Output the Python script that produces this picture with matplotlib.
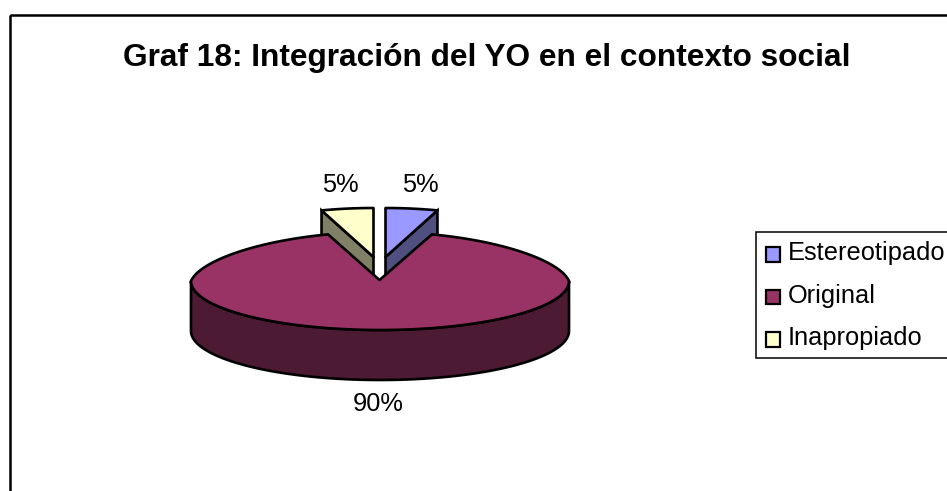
import numpy as np
import matplotlib
matplotlib.use("Agg")
import matplotlib.pyplot as plt
from matplotlib.patches import Polygon, Rectangle

title = "Graf 18: Integración del YO en el contexto social"
categories = ["Estereotipado", "Original", "Inapropiado"]
values = [5, 90, 5]
exploded = [True, False, True]
top_colors = ["#9999FF", "#993366", "#FFFFCC"]
side_colors = ["#4F4F80", "#4D1A33", "#808066"]

W, H = 947, 491
plt.rcParams["font.family"] = ["Liberation Sans", "DejaVu Sans"]
fig = plt.figure(figsize=(W / 100, H / 100), dpi=100)
ax = fig.add_axes([0, 0, 1, 1])
ax.set_xlim(0, W)
ax.set_ylim(H, 0)
ax.axis("off")

CX, CY, A, B, DEPTH, PERSP = 380, 281, 189, 49, 50, 0.116
LW = 1.9


def rim(t0, t1, cx, cy):
    th = np.radians(np.linspace(t0, t1, max(3, int(abs(t1 - t0) * 2))))
    # back half of the disc recedes slightly, as in the 3-D view
    x = cx + A * np.sin(th) * (1 - PERSP * np.clip(np.cos(th), 0, None))
    y = cy - B * np.cos(th)
    return np.column_stack([x, y])


total = sum(values)
angles = np.cumsum([0] + values) / total * 360
mids = (angles[:-1] + angles[1:]) / 2

# Exploded slices, drawn first so the big slice covers their lower sides
for i, (v, ex) in enumerate(zip(values, exploded)):
    if not ex:
        continue
    dx = 6 * np.sign(np.sin(np.radians(mids[i])))
    cx, cy = CX + dx - 0.5, CY - 24
    t0, t1 = angles[i], angles[i + 1]
    r = rim(t0, t1, cx, cy)
    outer = r[-1] if dx > 0 else r[0]
    side = [(cx, cy), tuple(outer), (outer[0], outer[1] + DEPTH), (cx, cy + DEPTH)]
    ax.add_patch(Polygon(side, closed=True, fc=side_colors[i], ec="black", lw=LW, zorder=2))
    top = np.vstack([[cx, cy], r])
    ax.add_patch(Polygon(top, closed=True, fc=top_colors[i], ec="black", lw=LW, zorder=3, joinstyle="round"))

# Main slice
big = int(np.argmax(values))
t0, t1 = angles[big], angles[big + 1]
front = rim(90, 270, CX, CY)
wall = np.vstack([front, (front + [0, DEPTH])[::-1]])
ax.add_patch(Polygon(wall, closed=True, fc=side_colors[big], ec="black", lw=LW, zorder=4))
top = np.vstack([[CX - 0.5, CY - 1], rim(t0, t1, CX, CY)])
ax.add_patch(Polygon(top, closed=True, fc=top_colors[big], ec="black", lw=LW, zorder=5, joinstyle="round"))

# Percent labels
FS = 18.3
label_xy = [(420, 185), (378, 404), (340, 185)]
for v, (lx, ly) in zip(values, label_xy):
    ax.text(lx, ly, f"{round(v / total * 100)}%", ha="center", va="center", fontsize=FS, color="black", zorder=6)

# Chart frame, running past the image's right and bottom edges
ax.add_patch(Rectangle((9.5, 14.5), W + 20, H + 20, fc="none", ec="black", lw=1.8, zorder=1, clip_on=True))

ax.text(487, 57.5, title, ha="center", va="center", fontsize=22.75, fontweight="bold", color="black", zorder=6)

# Legend
ax.add_patch(Rectangle((755.5, 232), 220, 126, fc="white", ec="black", lw=1.1, zorder=6))
legend_y = [254, 296.5, 339]
for name, c, ly in zip(categories, top_colors, legend_y):
    ax.add_patch(Rectangle((765.5, ly - 7), 14.5, 14.5, fc=c, ec="black", lw=1.6, zorder=7))
    ax.text(788, ly - 1, name, ha="left", va="center", fontsize=FS, color="black", zorder=7)

fig.savefig("out.png", dpi=100, facecolor="white")
